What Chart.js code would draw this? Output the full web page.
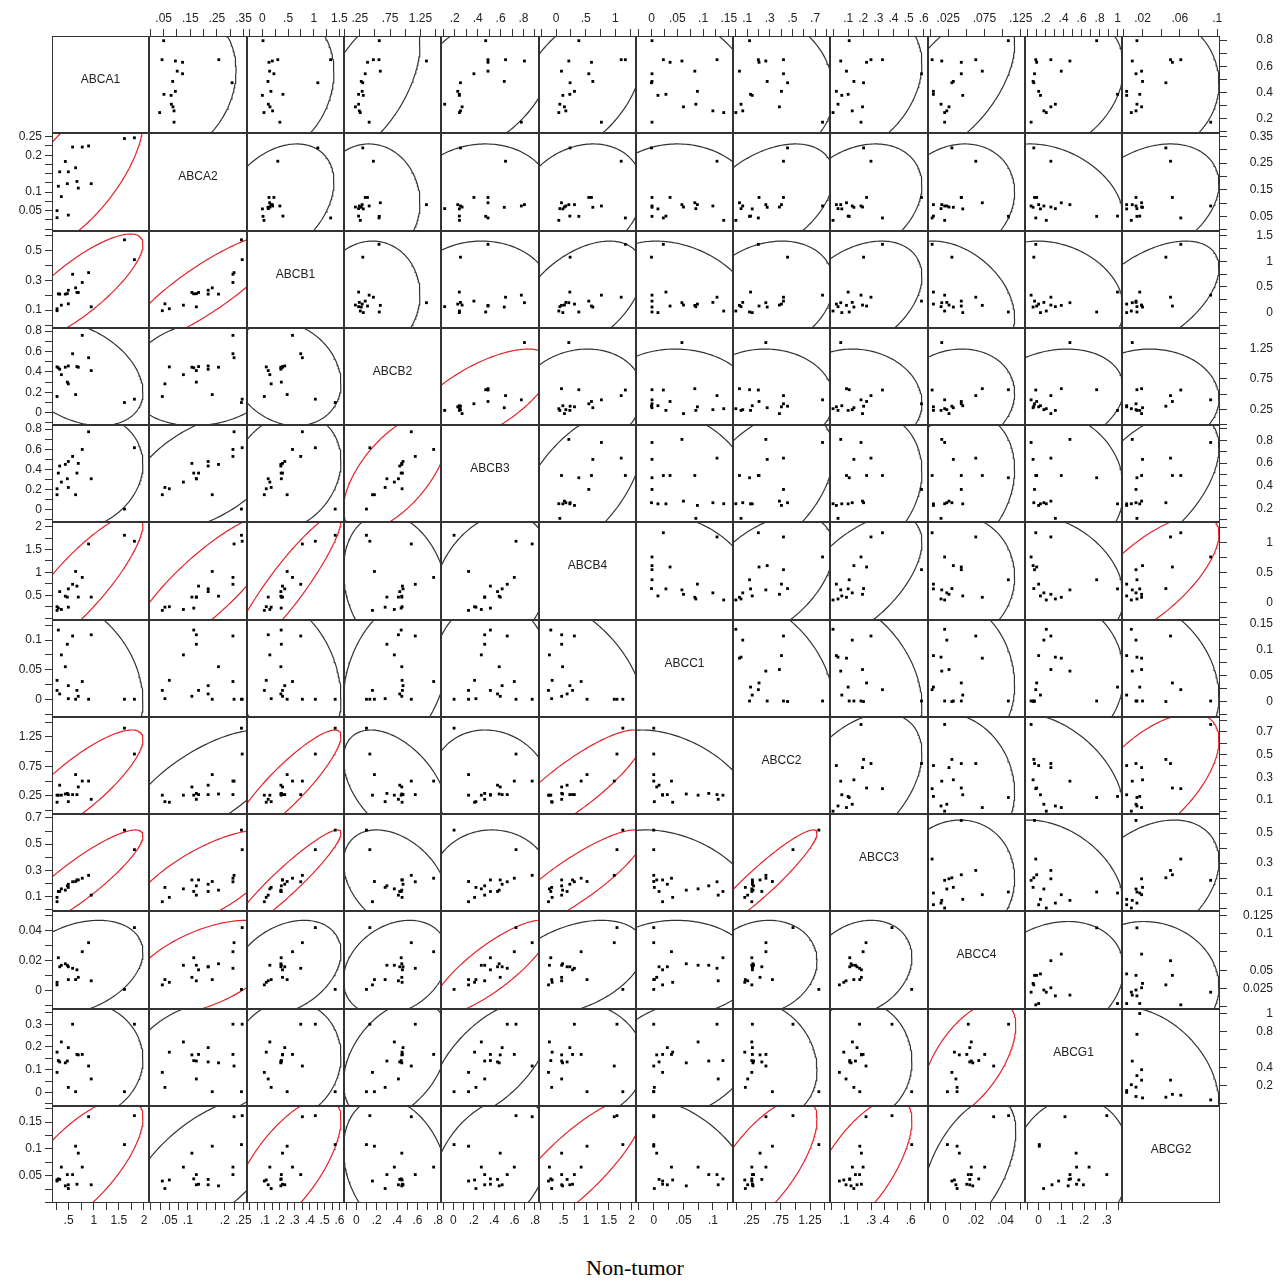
<!DOCTYPE html>
<html>
<head>
<meta charset="utf-8">
<title>Non-tumor scatterplot matrix</title>
<script src="https://cdn.jsdelivr.net/npm/chart.js@4.4.1/dist/chart.umd.min.js"></script>
<style>
  html, body { margin: 0; padding: 0; background: #fff; }
  #page { position: relative; width: 1286px; height: 1281px; overflow: hidden; }
  #page canvas { position: absolute; }
  .diag { position: absolute; display: flex; align-items: center; justify-content: center;
          box-sizing: border-box; padding-bottom: 12px;
          font: 12px "Liberation Sans", Arial, sans-serif; color: #222; }
  #caption { position: absolute; left: 0; width: 1270px; top: 1255px; text-align: center;
             font: 22px "Liberation Serif", "Times New Roman", serif; color: #000; }
</style>
</head>
<body>
<div id="page"><div id="caption">Non-tumor</div></div>
<script>
const genes = ["ABCA1", "ABCA2", "ABCB1", "ABCB2", "ABCB3", "ABCB4",
               "ABCC1", "ABCC2", "ABCC3", "ABCC4", "ABCG1", "ABCG2"];

// lower triangle panels (left / bottom axes), 18 samples
const lowABCA1 = [0.27, 0.27, 0.296, 0.323, 0.356, 0.435, 0.475, 0.495, 0.495, 0.58, 0.64, 0.666, 0.693, 0.772, 0.898, 0.95, 1.612, 1.81];
const lowABCA2 = [0.05, 0.031, 0.116, 0.155, 0.088, 0.183, 0.123, 0.155, 0.038, 0.222, 0.166, 0.129, 0.111, 0.222, 0.225, 0.123, 0.245, 0.247];
const lowABCB1 = [0.109, 0.096, 0.209, 0.207, 0.133, 0.207, 0.21, 0.233, 0.142, 0.34, 0.249, 0.218, 0.218, 0.285, 0.351, 0.122, 0.571, 0.438];
const lowABCB2 = [0.449, 0.159, 0.44, 0.426, 0.373, 0.446, 0.30, 0.458, 0.283, 0.578, 0.178, 0.452, 0.446, 0.758, 0.539, 0.413, 0.10, 0.133];
const lowABCB3 = [0.209, 0.15, 0.364, 0.434, 0.275, 0.45, 0.308, 0.479, 0.222, 0.529, 0.15, 0.364, 0.46, 0.598, 0.773, 0.308, 0.008, 0.615];
const lowABCB4 = [0.25, 0.17, 0.22, 0.58, 0.19, 0.48, 0.46, 0.64, 0.24, 0.74, 1.02, 0.70, 0.46, 0.89, 1.62, 0.46, 1.81, 1.68];
const lowABCC1 = [0.032, 0.015, 0.117, 0.009, 0.075, 0.055, 0.093, 0.023, 0.001, 0.107, 0.0, 0.015, 0.005, 0.03, 0.0, 0.109, 0.0, 0.0];
const lowABCC2 = [0.14, 0.26, 0.26, 0.43, 0.26, 0.28, 0.29, 0.27, 0.15, 0.27, 0.61, 0.27, 0.40, 0.50, 0.50, 0.19, 1.40, 0.96];
const lowABCC3 = [0.094, 0.061, 0.139, 0.139, 0.159, 0.149, 0.182, 0.194, 0.17, 0.213, 0.215, 0.227, 0.227, 0.24, 0.262, 0.111, 0.607, 0.458];
const lowABCC4 = [0.0057, 0.004, 0.022, 0.016, 0.017, 0.018, 0.017, 0.016, 0.0075, 0.015, 0.0075, 0.014, 0.009, 0.026, 0.032, 0.0067, 0.001, 0.042];
const lowABCG1 = [0.177, 0.088, 0.14, 0.134, 0.222, 0.13, 0.138, 0.197, 0.022, 0.30, 0.003, 0.167, 0.165, 0.167, 0.116, 0.059, 0.003, 0.30];
const lowABCG2 = [0.042, 0.04, 0.044, 0.043, 0.066, 0.031, 0.052, 0.033, 0.026, 0.052, 0.105, 0.034, 0.092, 0.066, 0.16, 0.033, 0.108, 0.162];

// upper triangle panels (top / right axes), 17 samples
const upABCA1 = [0.796, 0.64, 0.65, 0.63, 0.65, 0.562, 0.542, 0.483, 0.473, 0.407, 0.384, 0.376, 0.308, 0.288, 0.257, 0.244, 0.17];
const upABCA2 = [0.05, 0.094, 0.257, 0.121, 0.044, 0.101, 0.121, 0.084, 0.307, 0.094, 0.051, 0.078, 0.079, 0.085, 0.089, 0.035, 0.089];
const upABCB1 = [0.012, 0.193, 0.30, 0.128, 1.33, 0.141, 0.224, 0.108, 1.08, 0.166, 0.40, 0.0, 0.116, 0.147, 0.199, 0.031, 0.34];
const upABCB2 = [0.572, 1.35, 0.475, 0.378, 0.567, 0.589, 0.34, 0.275, 0.30, 0.29, 0.231, 0.308, 0.231, 0.178, 0.243, 0.259, 0.405];
const upABCB3 = [0.47, 0.808, 0.643, 0.49, 0.49, 0.49, 0.367, 0.632, 0.25, 0.226, 0.24, 0.24, 0.112, 0.264, 0.25, 0.241, 0.781];
const upABCB4 = [0.383, 0.214, 1.10, 0.597, 1.17, 0.09, 0.552, 0.62, 0.236, 0.31, 0.231, 0.113, 0.062, 0.14, 0.164, 0.045, 0.765];
const upABCC1 = [0.001, 0.059, 0.127, 0.036, 0.023, 0.084, 0.001, 0.001, 0.0, 0.089, 0.028, 0.0125, 0.086, 0.062, 0.119, 0.140, 0.001];
const upABCC2 = [0.121, 0.265, 0.421, 0.205, 0.199, 0.032, 0.421, 0.277, 0.457, 0.403, 0.13, 0.145, 0.046, 0.385, 0.061, 0.0, 0.766];
const upABCC3 = [0.107, 0.051, 0.251, 0.222, 0.327, 0.089, 0.585, 0.138, 0.202, 0.022, 0.1, 0.058, 0.033, 0.195, 0.127, 0.0, 0.185];
const upABCC4 = [0.108, 0.016, 0.063, 0.043, 0.0027, 0.072, 0.043, 0.032, 0.03, 0.0045, 0.0045, 0.045, 0.015, 0.026, 0.023, 0.02, 0.02];
const upABCG1 = [0.768, 0.47, 0.258, 0.10, 0.09, 0.374, 0.076, 0.06, 0.068, 0.122, 1.0, 0.142, 0.308, 0.258, 0.18, 0.207, 0.038];
const upABCG2 = [0.014, 0.009, 0.050, 0.052, 0.061, 0.019, 0.013, 0.02, 0.045, 0.003, 0.017, 0.003, 0.014, 0.019, 0.013, 0.008, 0.093];

// axis ranges and ticks, lower panels
const lowMin = [0.17, -0.005, -0.02, -0.12, -0.12, -0.04, -0.03, -0.06, -0.01, -0.012, -0.06, -0.001];
const lowMax = [2.1, 0.26, 0.63, 0.83, 0.84, 2.1, 0.134, 1.59, 0.73, 0.053, 0.367, 0.18];
const lowLeftStep = [0.1, 0.025, 0.1, 0.1, 0.1, 0.25, 0.025, 0.25, 0.1, 0.01, 0.05, 0.025];
const lowBottomStep = [0.25, 0.025, 0.05, 0.1, 0.1, 0.25, 0.025, 0.25, 0.1, 0.01, 0.05, 0.025];
const lowLeftLabels = [[], [0.05, 0.1, 0.2, 0.25], [0.1, 0.3, 0.5], [0, 0.2, 0.4, 0.6, 0.8], [0, 0.2, 0.4, 0.6, 0.8],
  [0.5, 1, 1.5, 2], [0, 0.05, 0.1], [0.25, 0.75, 1.25], [0.1, 0.3, 0.5, 0.7], [0, 0.02, 0.04], [0, 0.1, 0.2, 0.3], [0.05, 0.1, 0.15]];
const lowBottomLabels = [[0.5, 1, 1.5, 2], [0.05, 0.1, 0.2, 0.25], [0.1, 0.2, 0.3, 0.4, 0.5, 0.6], [0, 0.2, 0.4, 0.6, 0.8],
  [0, 0.2, 0.4, 0.6, 0.8], [0.5, 1, 1.5, 2], [0, 0.05, 0.1], [0.25, 0.75, 1.25], [0.1, 0.3, 0.4, 0.6], [0, 0.02, 0.04], [0, 0.1, 0.2, 0.3], []];

// axis ranges and ticks, upper panels
const upMin = [0.087, -0.005, -0.30, -0.01, 0.08, -0.29, -0.03, -0.025, -0.02, -0.003, -0.03, -0.002];
const upMax = [0.832, 0.363, 1.59, 1.59, 0.935, 1.35, 0.158, 0.832, 0.628, 0.131, 1.05, 0.103];
const upRightStep = [0.1, 0.05, 0.25, 0.25, 0.1, 0.25, 0.025, 0.1, 0.1, 0.025, 0.2, 0.02];
const upTopStep = [0.1, 0.05, 0.25, 0.25, 0.1, 0.25, 0.025, 0.1, 0.1, 0.025, 0.1, 0.02];
const upRightLabels = [[0.2, 0.4, 0.6, 0.8], [0.05, 0.15, 0.25, 0.35], [0, 0.5, 1, 1.5], [0.25, 0.75, 1.25], [0.2, 0.4, 0.6, 0.8],
  [0, 0.5, 1], [0, 0.05, 0.1, 0.15], [0.1, 0.3, 0.5, 0.7], [0.1, 0.3, 0.5], [0.025, 0.05, 0.1, 0.125], [0.2, 0.4, 0.8, 1], []];
const upTopLabels = [[], [0.05, 0.15, 0.25, 0.35], [0, 0.5, 1, 1.5], [0.25, 0.75, 1.25], [0.2, 0.4, 0.6, 0.8], [0, 0.5, 1],
  [0, 0.05, 0.1, 0.15], [0.1, 0.3, 0.5, 0.7], [0.1, 0.2, 0.3, 0.4, 0.5, 0.6], [0.025, 0.075, 0.125], [0.2, 0.4, 0.6, 0.8, 1], [0.02, 0.06, 0.1]];

// panels whose density ellipse is drawn in red: [row gene, column gene]
const redLower = [["ABCA2", "ABCA1"], ["ABCB1", "ABCA1"], ["ABCB1", "ABCA2"], ["ABCB3", "ABCB2"],
  ["ABCB4", "ABCA1"], ["ABCB4", "ABCA2"], ["ABCB4", "ABCB1"], ["ABCC2", "ABCA1"], ["ABCC2", "ABCB1"], ["ABCC2", "ABCB4"],
  ["ABCC3", "ABCA1"], ["ABCC3", "ABCA2"], ["ABCC3", "ABCB1"], ["ABCC3", "ABCB4"], ["ABCC3", "ABCC2"],
  ["ABCC4", "ABCA2"], ["ABCC4", "ABCB3"], ["ABCG1", "ABCC4"],
  ["ABCG2", "ABCA1"], ["ABCG2", "ABCB1"], ["ABCG2", "ABCB4"], ["ABCG2", "ABCC2"], ["ABCG2", "ABCC3"]];
const redUpper = [["ABCB2", "ABCB3"], ["ABCB4", "ABCG2"], ["ABCC2", "ABCG2"]];

const lowCols = [lowABCA1, lowABCA2, lowABCB1, lowABCB2, lowABCB3, lowABCB4, lowABCC1, lowABCC2, lowABCC3, lowABCC4, lowABCG1, lowABCG2];
const upCols = [upABCA1, upABCA2, upABCB1, upABCB2, upABCB3, upABCB4, upABCC1, upABCC2, upABCC3, upABCC4, upABCG1, upABCG2];

Chart.defaults.font.family = '"Liberation Sans", Arial, sans-serif';
Chart.defaults.color = "#222";

const page = document.getElementById("page");
const N = genes.length;
const xs = [], ys = [];
for (let i = 0; i <= N; i++) {
  xs.push(Math.round(52 + i * 97.3));
  ys.push(Math.round(36 + i * 97.25));
}
const P = 60;

function tickValues(min, max, step) {
  const out = [];
  for (let i = Math.ceil(min / step - 1e-9); i * step <= max + 1e-9; i++) {
    out.push(Math.round(i * step * 1e6) / 1e6);
  }
  return out;
}

// bivariate normal density ellipse (99% coverage)
function ellipse(xv, yv) {
  const n = xv.length;
  const mx = xv.reduce((a, b) => a + b, 0) / n;
  const my = yv.reduce((a, b) => a + b, 0) / n;
  let sxx = 0, syy = 0, sxy = 0;
  for (let i = 0; i < n; i++) {
    sxx += (xv[i] - mx) ** 2;
    syy += (yv[i] - my) ** 2;
    sxy += (xv[i] - mx) * (yv[i] - my);
  }
  const sx = Math.sqrt(sxx / (n - 1)), sy = Math.sqrt(syy / (n - 1));
  const r = sxy / Math.sqrt(sxx * syy);
  const k = Math.sqrt(-2 * Math.log(0.01));
  const pts = [];
  for (let i = 0; i <= 200; i++) {
    const t = 2 * Math.PI * i / 200;
    pts.push({
      x: mx + k * sx * Math.cos(t),
      y: my + k * sy * (r * Math.cos(t) + Math.sqrt(1 - r * r) * Math.sin(t))
    });
  }
  return pts;
}

function axis(min, max, pos, step, labels, size) {
  if (!pos) return { type: "linear", min, max, display: false };
  const horiz = pos === "top" || pos === "bottom";
  const vals = tickValues(min, max, step);
  return {
    type: "linear", min, max, position: pos, display: true,
    afterBuildTicks: s => { s.ticks = vals.map(v => ({ value: v })); },
    afterFit: s => { if (horiz) s.height = size; else s.width = size; },
    grid: { drawOnChartArea: false, drawTicks: true, tickLength: 7, color: "#333", lineWidth: 1 },
    border: { display: false },
    ticks: {
      autoSkip: false, maxRotation: 0, minRotation: 0, padding: 3,
      crossAlign: pos === "right" ? "far" : "near",
      font: { size: 12 }, color: "#222",
      callback: v => {
        const hit = labels.find(l => Math.abs(l - v) < 1e-7);
        if (hit === undefined) return "";
        const s = String(hit);
        return horiz && s.startsWith("0.") ? s.slice(1) : s;
      }
    }
  };
}

const frame = {
  id: "frame",
  afterDraw(chart) {
    const a = chart.chartArea, ctx = chart.ctx;
    ctx.save();
    ctx.strokeStyle = "#333";
    ctx.lineWidth = 1;
    ctx.strokeRect(a.left + 0.5, a.top + 0.5, a.right - a.left - 1, a.bottom - a.top - 1);
    ctx.restore();
  }
};

const isRed = (list, r, c) => list.some(p => p[0] === genes[r] && p[1] === genes[c]);

for (let r = 0; r < N; r++) {
  for (let c = 0; c < N; c++) {
    const x0 = xs[c], y0 = ys[r], w = xs[c + 1] - xs[c], h = ys[r + 1] - ys[r];
    const cv = document.createElement("canvas");
    cv.width = w + 2 * P;
    cv.height = h + 2 * P;
    cv.style.left = (x0 - P) + "px";
    cv.style.top = (y0 - P) + "px";
    cv.style.width = cv.width + "px";
    cv.style.height = cv.height + "px";
    page.appendChild(cv);

    const pad = { left: P, right: P, top: P, bottom: P };
    let xAxis, yAxis;
    const datasets = [];
    if (r > c) {
      const xv = lowCols[c], yv = lowCols[r];
      const xPos = r === N - 1 ? "bottom" : null;
      const yPos = c === 0 ? "left" : null;
      if (xPos) pad.bottom = P - 34;
      if (yPos) pad.left = P - 48;
      xAxis = axis(lowMin[c], lowMax[c], xPos, lowBottomStep[c], lowBottomLabels[c], 34);
      yAxis = axis(lowMin[r], lowMax[r], yPos, lowLeftStep[r], lowLeftLabels[r], 48);
      datasets.push({ data: xv.map((v, i) => ({ x: v, y: yv[i] })) });
      datasets.push({ data: ellipse(xv, yv), red: isRed(redLower, r, c) });
    } else if (r < c) {
      const xv = upCols[c], yv = upCols[r];
      const xPos = r === 0 ? "top" : null;
      const yPos = c === N - 1 ? "right" : null;
      if (xPos) pad.top = P - 30;
      if (yPos) pad.right = P - 53;
      xAxis = axis(upMin[c], upMax[c], xPos, upTopStep[c], upTopLabels[c], 30);
      yAxis = axis(upMin[r], upMax[r], yPos, upRightStep[r], upRightLabels[r], 53);
      datasets.push({ data: xv.map((v, i) => ({ x: v, y: yv[i] })) });
      datasets.push({ data: ellipse(xv, yv), red: isRed(redUpper, r, c) });
    } else {
      xAxis = axis(0, 1, null);
      yAxis = axis(0, 1, null);
      const lab = document.createElement("div");
      lab.className = "diag";
      lab.style.left = x0 + "px";
      lab.style.top = y0 + "px";
      lab.style.width = w + "px";
      lab.style.height = h + "px";
      lab.textContent = genes[r];
      page.appendChild(lab);
    }

    const styled = datasets.map((d, i) => i === 0
      ? { data: d.data, pointStyle: "rect", pointRadius: 2, backgroundColor: "#000", borderWidth: 0, showLine: false }
      : { data: d.data, showLine: true, pointRadius: 0, borderWidth: 1.2,
          borderColor: d.red ? "#e3242b" : "#333", fill: false, tension: 0 });

    new Chart(cv, {
      type: "scatter",
      data: { datasets: styled },
      options: {
        responsive: false, animation: false, devicePixelRatio: 1, events: [],
        layout: { padding: pad },
        plugins: { legend: { display: false }, tooltip: { enabled: false } },
        scales: { x: xAxis, y: yAxis }
      },
      plugins: [frame]
    });
  }
}
</script>
</body>
</html>
